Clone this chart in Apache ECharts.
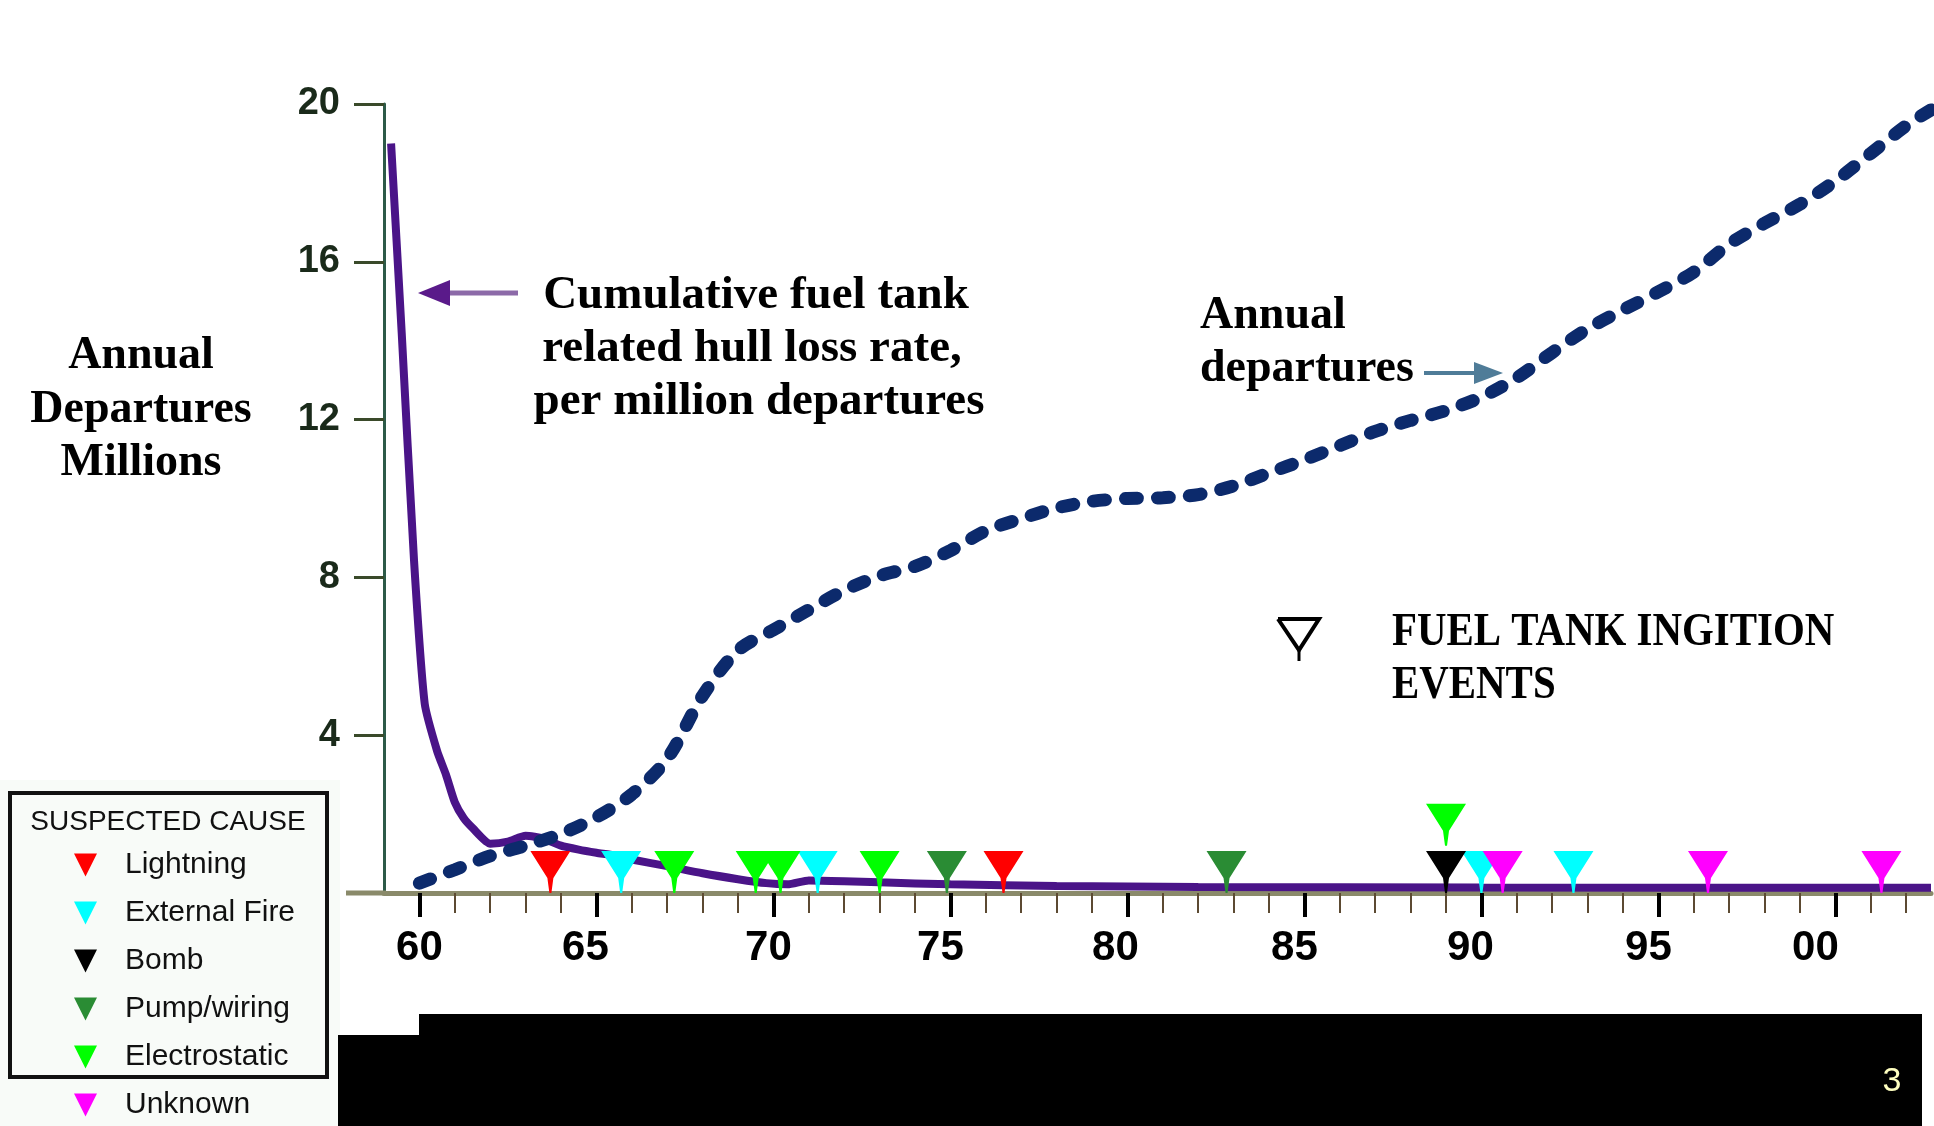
<!DOCTYPE html>
<html><head><meta charset="utf-8">
<script src="https://cdn.jsdelivr.net/npm/echarts@6/dist/echarts.min.js"></script>
<style>html,body{margin:0;padding:0;background:#fff}#c{width:1934px;height:1126px}</style>
</head><body><div id="c"></div>
<script>
// ---- data ----
const lossYears = [59.2, 59.5, 59.85, 60.15, 60.5, 60.75, 61.0, 61.25, 61.5, 62.0, 62.5, 63.0, 63.5, 64.0, 64.5, 65.0, 65.5, 66.0, 67.0, 68.0, 69.0, 69.8, 70.4, 71.0, 72.0, 73.0, 75.0, 78.0, 82.0, 90.0, 102.7];
const lossRate  = [19.0, 14.2, 8.4, 4.8, 3.6, 3.0, 2.3, 1.9, 1.65, 1.25, 1.3, 1.45, 1.38, 1.2, 1.1, 1.02, 0.95, 0.85, 0.68, 0.5, 0.35, 0.25, 0.22, 0.32, 0.3, 0.27, 0.22, 0.18, 0.15, 0.14, 0.13];

const depYears = [60,61,62,63,64,65,66,67,68,69,70,71,72,73,74,75,76,77,78,79,80,81,82,83,84,85,86,87,88,89,90,91,92,93,94,95,96,97,98,99,100,101,102,102.7];
const departures = [0.25,0.59,0.94,1.2,1.5,1.92,2.5,3.4,5.0,6.15,6.67,7.18,7.67,8.04,8.28,8.68,9.18,9.49,9.76,9.93,10.0,10.02,10.1,10.32,10.65,10.98,11.34,11.7,11.98,12.23,12.57,13.06,13.7,14.3,14.78,15.24,15.74,16.45,16.98,17.46,18.05,18.75,19.45,19.85];

// events: [year, stack height]
const lightning     = [[63.7, 0], [76.5, 0]];
const externalFire  = [[65.7, 0], [71.25, 0], [90.0, 0], [92.6, 0]];
const bomb          = [[89.0, 0]];
const pumpWiring    = [[74.9, 0], [82.8, 0]];
const electrostatic = [[67.2, 0], [69.5, 0], [70.2, 0], [73.0, 0], [89.0, 1.2]];
const unknown       = [[90.6, 0], [96.4, 0], [101.3, 0]];

const xMajorTicks = [60, 65, 70, 75, 80, 85, 90, 95, 100];
const xMinorTicks = [60,61,62,63,64,65,66,67,68,69,70,71,72,73,74,75,76,77,78,79,80,81,82,83,84,85,86,87,88,89,90,91,92,93,94,95,96,97,98,99,100,101,102];

const zip = (a, b) => a.map((v, i) => [v, b[i]]);

const SERIF = '"Liberation Serif", "Times New Roman", serif';
const SANS = '"Liberation Sans", Arial, sans-serif';
const markerPath = 'path://M0,0 L40,0 L23,27 L21,42 L19,42 L17,27 Z';

// the original year labels sit slightly left of their ticks (style only)
const labelShiftPx = [0, 11, 5, 10, 12, 10, 11, 10, 20];
const labelRich = {};
labelShiftPx.forEach((s, i) => {
  labelRich['p' + i] = { fontFamily: SANS, fontWeight: 'bold', fontSize: 42, color: '#000', padding: [0, 2 * s, 0, 0] };
});

function eventSeries(name, data, color) {
  return {
    name, type: 'scatter', data,
    symbol: markerPath, symbolSize: [40, 42], symbolOffset: [0, '-50%'],
    itemStyle: { color, opacity: 1 },
    z: 6, silent: true
  };
}

const chart = echarts.init(document.getElementById('c'), null, { renderer: 'canvas' });
const xCommon = { type: 'value', min: 59, max: 102.7, position: 'bottom', offset: 0, splitLine: { show: false } };

chart.setOption({
  backgroundColor: '#ffffff',
  animation: false,
  grid: { left: 384, right: 3, top: 104, bottom: 233, containLabel: false, outerBoundsMode: 'none' },
  xAxis: [
    Object.assign({}, xCommon, {
      axisLine: { show: true, onZero: false, lineStyle: { color: '#8a8a6a', width: 5 } },
      axisTick: { show: true, customValues: xMinorTicks, length: 20, lineStyle: { color: '#5c4a32', width: 2 } },
      axisLabel: { show: false }
    }),
    Object.assign({}, xCommon, {
      axisLine: { show: false, onZero: false },
      axisTick: { show: true, customValues: xMajorTicks, length: 24, lineStyle: { color: '#000', width: 4 } },
      axisLabel: {
        show: true, customValues: xMajorTicks, margin: 34,
        formatter: v => {
          const i = xMajorTicks.indexOf(Math.round(v));
          return '{p' + Math.max(i, 0) + '|' + String(Math.round(v) % 100).padStart(2, '0') + '}';
        },
        rich: labelRich,
        color: '#000', fontFamily: SANS, fontWeight: 'bold', fontSize: 42
      }
    })
  ],
  yAxis: {
    type: 'value', min: 0, max: 20, interval: 4,
    axisLine: { show: true, lineStyle: { color: '#2d5a48', width: 3 } },
    axisTick: { show: true, length: 30, lineStyle: { color: '#3a4a2a', width: 3 } },
    axisLabel: { color: '#1a2a1a', fontFamily: SANS, fontWeight: 'bold', fontSize: 38, margin: 44 },
    splitLine: { show: false }
  },
  legend: {
    orient: 'vertical', left: 74, top: 850, height: 290, padding: 0, itemGap: 18,
    itemWidth: 25, itemHeight: 23, icon: 'path://M0,0 L20,0 L10,20 Z',
    textStyle: { fontFamily: SANS, fontSize: 30, lineHeight: 30, color: '#111', padding: [0, 0, 0, 22] },
    selectedMode: false, z: 200,
    data: ['Lightning', 'External Fire', 'Bomb', 'Pump/wiring', 'Electrostatic', 'Unknown']
  },
  series: [
    {
      name: 'Cumulative fuel tank related hull loss rate', type: 'line', data: zip(lossYears, lossRate),
      showSymbol: false, smooth: 0.2, xAxisIndex: 0,
      lineStyle: { color: '#4a1488', width: 8 }, z: 3, silent: true
    },
    {
      name: 'Annual departures', type: 'line', data: zip(depYears, departures),
      showSymbol: false, smooth: 0.3, xAxisIndex: 0,
      lineStyle: { color: '#0c2a6c', width: 13, type: [12, 20], cap: 'round' }, z: 4, silent: true
    },
    eventSeries('Lightning', lightning, '#ff0000'),
    eventSeries('External Fire', externalFire, '#00ffff'),
    eventSeries('Bomb', bomb, '#000000'),
    eventSeries('Pump/wiring', pumpWiring, '#2a8c34'),
    eventSeries('Electrostatic', electrostatic, '#00ff00'),
    eventSeries('Unknown', unknown, '#ff00ff')
  ],
  graphic: [
    // x axis line stub left of the y axis
    { type: 'line', z: 1, shape: { x1: 346, y1: 893, x2: 386, y2: 893 }, style: { stroke: '#8a8a6a', lineWidth: 5 } },
    // legend backdrop and box
    { type: 'rect', z: 50, shape: { x: 0, y: 780, width: 340, height: 346 }, style: { fill: '#f8fbf8' } },
    { type: 'rect', z: 150, shape: { x: 10, y: 793, width: 317, height: 284 }, style: { fill: 'rgba(0,0,0,0)', stroke: '#111', lineWidth: 4 } },
    { type: 'text', z: 150, x: 168, y: 822, style: { text: 'SUSPECTED CAUSE', font: '28px ' + SANS, fill: '#111', textAlign: 'center', textVerticalAlign: 'middle' } },
    // bottom black bar + page number
    { type: 'rect', z: 60, shape: { x: 419, y: 1014, width: 1503, height: 25 }, style: { fill: '#000' } },
    { type: 'rect', z: 60, shape: { x: 338, y: 1035, width: 1584, height: 91 }, style: { fill: '#000' } },
    { type: 'text', z: 61, x: 1892, y: 1082, style: { text: '3', font: '34px ' + SANS, fill: '#ffffc0', textAlign: 'center', textVerticalAlign: 'middle' } },
    // y axis title
    { type: 'text', x: 141, y: 356, style: { text: 'Annual', font: 'bold 46px ' + SERIF, fill: '#000', textAlign: 'center', textVerticalAlign: 'middle' } },
    { type: 'text', x: 141, y: 410, style: { text: 'Departures', font: 'bold 46px ' + SERIF, fill: '#000', textAlign: 'center', textVerticalAlign: 'middle' } },
    { type: 'text', x: 141, y: 463, style: { text: 'Millions', font: 'bold 46px ' + SERIF, fill: '#000', textAlign: 'center', textVerticalAlign: 'middle' } },
    // loss rate annotation
    { type: 'text', x: 756, y: 296, style: { text: 'Cumulative fuel tank', font: 'bold 47px ' + SERIF, fill: '#000', textAlign: 'center', textVerticalAlign: 'middle' } },
    { type: 'text', x: 752, y: 349, style: { text: 'related hull loss rate,', font: 'bold 47px ' + SERIF, fill: '#000', textAlign: 'center', textVerticalAlign: 'middle' } },
    { type: 'text', x: 759, y: 402, style: { text: 'per million departures', font: 'bold 47px ' + SERIF, fill: '#000', textAlign: 'center', textVerticalAlign: 'middle' } },
    { type: 'line', shape: { x1: 518, y1: 293, x2: 440, y2: 293 }, style: { stroke: '#8c6aa8', lineWidth: 5 } },
    { type: 'polygon', shape: { points: [[418, 293], [450, 280], [450, 306]] }, style: { fill: '#5a1a8a' } },
    // departures annotation
    { type: 'text', x: 1200, y: 316, style: { text: 'Annual', font: 'bold 46px ' + SERIF, fill: '#000', textAlign: 'left', textVerticalAlign: 'middle' } },
    { type: 'text', x: 1200, y: 369, style: { text: 'departures', font: 'bold 46px ' + SERIF, fill: '#000', textAlign: 'left', textVerticalAlign: 'middle' } },
    { type: 'line', shape: { x1: 1424, y1: 373, x2: 1480, y2: 373 }, style: { stroke: '#4f7c98', lineWidth: 4 } },
    { type: 'polygon', shape: { points: [[1503, 373], [1474, 362], [1474, 384]] }, style: { fill: '#4f7c98' } },
    // fuel tank ignition events key
    { type: 'polyline', shape: { points: [[1278, 619], [1319, 619], [1299, 650], [1278, 619]] }, style: { stroke: '#000', lineWidth: 4, fill: 'none' } },
    { type: 'line', shape: { x1: 1299, y1: 648, x2: 1299, y2: 661 }, style: { stroke: '#000', lineWidth: 3 } },
    { type: 'text', x: 1392, y: 633, scaleX: 0.87, style: { text: 'FUEL TANK INGITION', font: 'bold 47px ' + SERIF, fill: '#000', textAlign: 'left', textVerticalAlign: 'middle' } },
    { type: 'text', x: 1392, y: 686, scaleX: 0.87, style: { text: 'EVENTS', font: 'bold 47px ' + SERIF, fill: '#000', textAlign: 'left', textVerticalAlign: 'middle' } }
  ]
});
</script></body></html>
